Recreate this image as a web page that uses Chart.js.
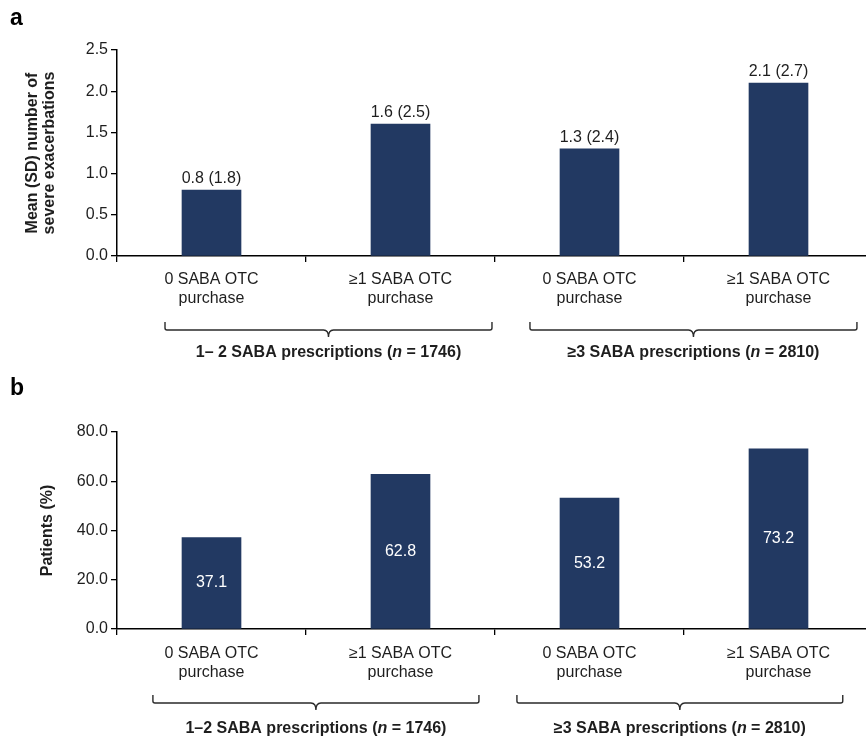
<!DOCTYPE html>
<html>
<head>
<meta charset="utf-8">
<script src="https://cdn.jsdelivr.net/npm/chart.js@4.4.1/dist/chart.umd.min.js"></script>
<style>
  html, body { margin: 0; padding: 0; background: #fff; overflow: hidden; }
  #wrap { position: relative; width: 866px; height: 741px; overflow: hidden; }
  canvas { position: absolute; left: 0; }
  #chartA { top: 0; }
  #chartB { top: 370px; }
</style>
</head>
<body>
<div id="wrap">
  <canvas id="chartA" width="880" height="370"></canvas>
  <canvas id="chartB" width="880" height="371"></canvas>
</div>
<script>
// ---- data ----
const categories = [
  ['0 SABA OTC', 'purchase'],
  ['\u22651 SABA OTC', 'purchase'],
  ['0 SABA OTC', 'purchase'],
  ['\u22651 SABA OTC', 'purchase']
];
const meanExacerbations = [0.8, 1.6, 1.3, 2.1];
const sdExacerbations   = [1.8, 2.5, 2.4, 2.7];
const patientsPercent   = [37.1, 62.8, 53.2, 73.2];

const ticksA = [0, 0.5, 1.0, 1.5, 2.0, 2.5];
const ticksB = [0, 20, 40, 60, 80];

const groupNamesA = ['1\u2013 2 SABA prescriptions', '\u22653 SABA prescriptions'];
const groupNamesB = ['1\u20132 SABA prescriptions', '\u22653 SABA prescriptions'];
const groupSizes  = [1746, 2810];

// ---- styling ----
const FONT = "'Liberation Sans', Arial, Helvetica, sans-serif";
const BAR = '#223962';
const INK = '#1e1e1e';

// Bracket under each pair of categories plus its bold caption
const groupBraces = {
  id: 'groupBraces',
  afterDraw(chart, args, opts) {
    const { ctx } = chart;
    const x = chart.scales.x;
    const cw = x.width / categories.length;
    const base = x.top;
    ctx.save();
    ctx.strokeStyle = '#2a2a2a';
    ctx.lineWidth = 1.4;
    opts.groups.forEach((g, gi) => {
      const x1 = x.left + g.from * cw;
      const x2 = x.left + g.to * cw;
      const xm = (x1 + x2) / 2;
      const yTop = base + 66, yLine = base + 74, yTip = base + 81;
      ctx.beginPath();
      ctx.moveTo(x1, yTop);
      ctx.lineTo(x1, yLine - 2);
      ctx.quadraticCurveTo(x1, yLine, x1 + 2, yLine);
      ctx.lineTo(xm - 5, yLine);
      ctx.quadraticCurveTo(xm, yLine, xm, yTip);
      ctx.quadraticCurveTo(xm, yLine, xm + 5, yLine);
      ctx.lineTo(x2 - 2, yLine);
      ctx.quadraticCurveTo(x2, yLine, x2, yLine - 2);
      ctx.lineTo(x2, yTop);
      ctx.stroke();

      // caption: name (n = N) with italic n
      const parts = [
        { t: opts.names[gi] + ' (', f: 'bold 16px ' + FONT },
        { t: 'n', f: 'italic bold 16px ' + FONT },
        { t: ' = ' + groupSizes[gi] + ')', f: 'bold 16px ' + FONT }
      ];
      let total = 0;
      parts.forEach(p => { ctx.font = p.f; p.w = ctx.measureText(p.t).width; total += p.w; });
      let cx = xm - total / 2;
      ctx.fillStyle = INK;
      ctx.textBaseline = 'middle';
      ctx.textAlign = 'left';
      parts.forEach(p => { ctx.font = p.f; ctx.fillText(p.t, cx, base + opts.captionDy); cx += p.w; });
    });
    ctx.restore();
  }
};

// Value captions on the bars
const valueLabels = {
  id: 'valueLabels',
  afterDatasetsDraw(chart, args, opts) {
    const { ctx } = chart;
    const meta = chart.getDatasetMeta(0);
    ctx.save();
    ctx.font = '16px ' + FONT;
    ctx.textAlign = 'center';
    meta.data.forEach((bar, i) => {
      const txt = opts.format(i);
      if (opts.inside) {
        ctx.fillStyle = '#ffffff';
        ctx.textBaseline = 'middle';
        ctx.fillText(txt, bar.x, (bar.y + bar.base) / 2);
      } else {
        ctx.fillStyle = INK;
        ctx.textBaseline = 'alphabetic';
        ctx.fillText(txt, bar.x, bar.y - 7);
      }
    });
    ctx.restore();
  }
};

// Panel letter in the top-left corner
const panelLetter = {
  id: 'panelLetter',
  afterDraw(chart, args, opts) {
    const { ctx } = chart;
    ctx.save();
    ctx.font = 'bold 23px ' + FONT;
    ctx.fillStyle = '#000';
    ctx.textAlign = 'left';
    ctx.textBaseline = 'alphabetic';
    ctx.fillText(opts.text, 10, opts.y);
    ctx.restore();
  }
};

function makeChart(id, cfg) {
  return new Chart(document.getElementById(id), {
    type: 'bar',
    data: {
      labels: categories,
      datasets: [{
        data: cfg.values,
        backgroundColor: BAR,
        borderWidth: 0,
        barThickness: 59
      }]
    },
    options: {
      responsive: false,
      animation: false,
      devicePixelRatio: 1,
      layout: { padding: { top: cfg.padTop, right: 7, left: 0, bottom: 0 } },
      plugins: {
        legend: { display: false },
        tooltip: { enabled: false },
        valueLabels: { inside: cfg.inside, format: cfg.format },
        groupBraces: { names: cfg.groupNames, groups: cfg.braces, captionDy: cfg.captionDy },
        panelLetter: { text: cfg.letter, y: cfg.letterY }
      },
      scales: {
        x: {
          grid: { drawOnChartArea: false, drawTicks: true, tickLength: 6, color: '#000', lineWidth: 1.3, offset: true },
          border: { display: true, color: '#000', width: 1.5 },
          ticks: {
            color: INK, font: { family: FONT, size: 16, lineHeight: 1.2 },
            padding: cfg.tickPad, autoSkip: false, maxRotation: 0, minRotation: 0
          },
          afterFit(s) { s.height = cfg.xHeight; }
        },
        y: {
          min: cfg.ticks[0],
          max: cfg.ticks[cfg.ticks.length - 1],
          afterBuildTicks(s) { s.ticks = cfg.ticks.map(v => ({ value: v })); },
          grid: { drawOnChartArea: false, drawTicks: true, tickLength: 6, color: '#000', lineWidth: 1.3 },
          border: { display: true, color: '#000', width: 1.5 },
          ticks: {
            color: INK, font: { family: FONT, size: 16 }, padding: 3,
            callback: v => Number(v).toFixed(1)
          },
          title: {
            display: true, text: cfg.yTitle, color: INK,
            font: { family: FONT, size: 16, weight: 'bold', lineHeight: 1.05 },
            padding: { top: cfg.titlePad, bottom: 0 }
          },
          afterFit(s) { s.width = 117; }
        }
      }
    },
    plugins: [valueLabels, groupBraces, panelLetter]
  });
}

makeChart('chartA', {
  values: meanExacerbations,
  ticks: ticksA,
  padTop: 50,
  xHeight: 114,
  tickPad: 8,
  inside: false,
  format: i => meanExacerbations[i].toFixed(1) + ' (' + sdExacerbations[i].toFixed(1) + ')',
  yTitle: ['Mean (SD) number of', 'severe exacerbations'],
  titlePad: 24,
  groupNames: groupNamesA,
  braces: [{ from: 0.254, to: 1.984 }, { from: 2.185, to: 3.915 }],
  captionDy: 97,
  letter: 'a',
  letterY: 25
});

makeChart('chartB', {
  values: patientsPercent,
  ticks: ticksB,
  padTop: 62,
  xHeight: 112,
  tickPad: 9,
  inside: true,
  format: i => patientsPercent[i].toFixed(1),
  yTitle: 'Patients (%)',
  titlePad: 39,
  groupNames: groupNamesB,
  braces: [{ from: 0.19, to: 1.915 }, { from: 2.116, to: 3.84 }],
  captionDy: 100,
  letter: 'b',
  letterY: 25
});
</script>
</body>
</html>
